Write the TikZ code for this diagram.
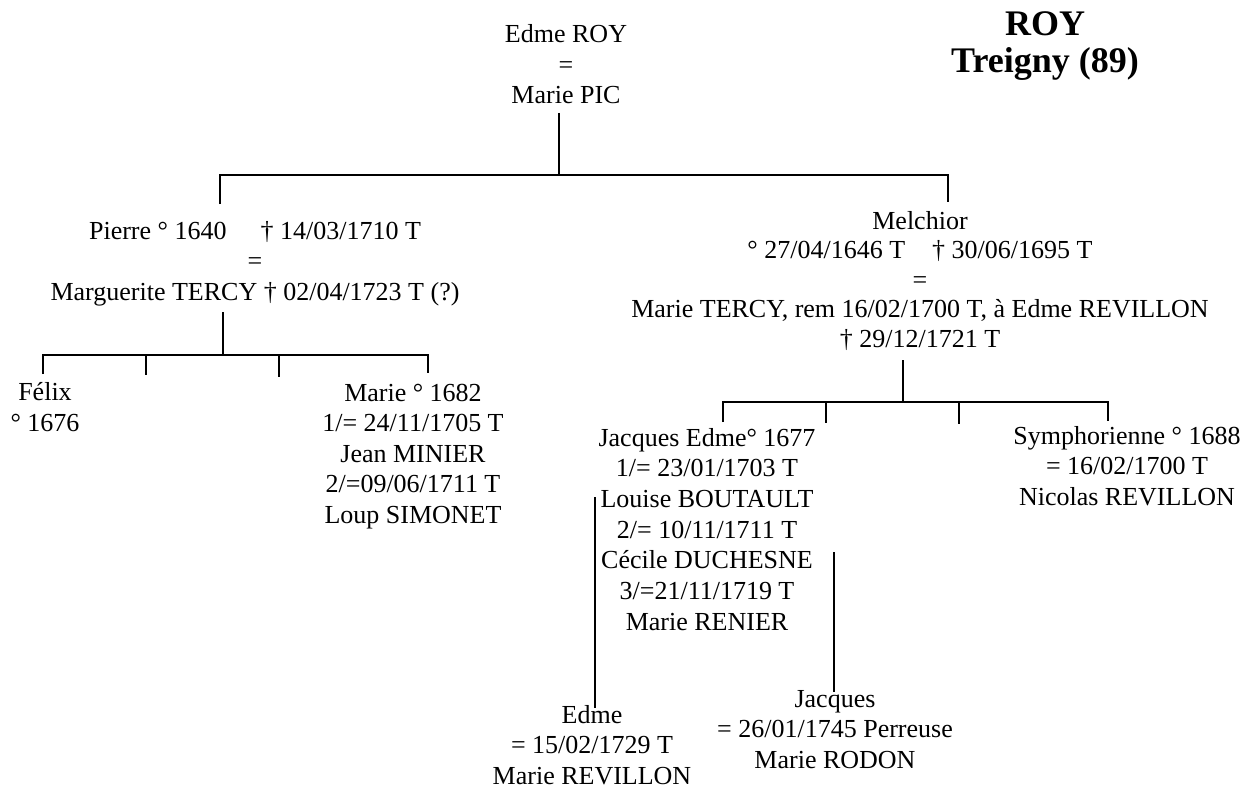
\documentclass[tikz,border=0pt]{standalone}
\usepackage{fontspec}
\setmainfont{Liberation Serif}
\begin{document}
\begin{tikzpicture}[x=1pt,y=-1pt,
  person/.style={anchor=base, align=center, inner sep=0pt, font=\fontsize{26}{30.5}\selectfont},
  titlebox/.style={anchor=base, align=center, inner sep=0pt, font=\fontsize{36}{37}\selectfont\bfseries},
  tree/.style={line width=1.8pt, line cap=butt}]
\useasboundingbox (0,0) rectangle (1259,789);

% title (anchor = baseline of last line)
\node[titlebox] (title) at (1045,73) {ROY\\Treigny (89)};

% persons (anchor = baseline of last line)
\node[person] (edme) at (566,104) {Edme ROY\\=\\Marie PIC};
\node[person] (pierre) at (255,300) {Pierre ° 1640\hspace*{34pt}† 14/03/1710 T\\=\\Marguerite TERCY † 02/04/1723 T (?)};
\node[person, font=\fontsize{26}{29.6}\selectfont] (melchior) at (920,347.4) {Melchior\\° 27/04/1646 T\hspace*{27pt}† 30/06/1695 T\\=\\Marie TERCY, rem 16/02/1700 T, à Edme REVILLON\\† 29/12/1721 T};
\node[person] (felix) at (45,431) {Félix\\° 1676};
\node[person] (marie) at (413,523) {Marie ° 1682\\1/= 24/11/1705 T\\Jean MINIER\\2/=09/06/1711 T\\Loup SIMONET};
\node[person, font=\fontsize{26}{30.7}\selectfont] (jedme) at (707,630.2) {Jacques Edme° 1677\\1/= 23/01/1703 T\\Louise BOUTAULT\\2/= 10/11/1711 T\\Cécile DUCHESNE\\3/=21/11/1719 T\\Marie RENIER};
\node[person] (symph) at (1127,505) {Symphorienne ° 1688\\= 16/02/1700 T\\Nicolas REVILLON};
\node[person] (edmeb) at (592,784) {Edme\\= 15/02/1729 T\\Marie REVILLON};
\node[person] (jacquesb) at (835,768) {Jacques\\= 26/01/1745 Perreuse\\Marie RODON};

% junction coordinates
\coordinate (a0) at (559,113);
\coordinate (a1) at (559,175);
\coordinate (aL) at (220,175);
\coordinate (aR) at (948,175);
\coordinate (aLd) at (220,204);
\coordinate (aRd) at (948,202);

\coordinate (b0) at (223,312);
\coordinate (b1) at (223,355);
\coordinate (bL) at (43,355);
\coordinate (bR) at (428,355);
\coordinate (bLd) at (43,374);
\coordinate (b2) at (146,355);
\coordinate (b2d) at (146,375);
\coordinate (b3) at (279,355);
\coordinate (b3d) at (279,377);
\coordinate (bRd) at (428,373);

\coordinate (c0) at (903,360);
\coordinate (c1) at (903,402);
\coordinate (cL) at (723,402);
\coordinate (cR) at (1108,402);
\coordinate (cLd) at (723,422);
\coordinate (c2) at (826,402);
\coordinate (c2d) at (826,423);
\coordinate (c3) at (959,402);
\coordinate (c3d) at (959,424);
\coordinate (cRd) at (1108,421);

\coordinate (d0) at (595,497);
\coordinate (d1) at (595,708);
\coordinate (e0) at (834,552);
\coordinate (e1) at (834,692);

% connectors
\draw[tree] (a0) -- (a1);
\draw[tree] (aLd) -- (aL) -- (aR) -- (aRd);

\draw[tree] (b0) -- (b1);
\draw[tree] (bLd) -- (bL) -- (bR) -- (bRd);
\draw[tree] (b2) -- (b2d);
\draw[tree] (b3) -- (b3d);

\draw[tree] (c0) -- (c1);
\draw[tree] (cLd) -- (cL) -- (cR) -- (cRd);
\draw[tree] (c2) -- (c2d);
\draw[tree] (c3) -- (c3d);

\draw[tree] (d0) -- (d1);
\draw[tree] (e0) -- (e1);
\end{tikzpicture}
\end{document}
